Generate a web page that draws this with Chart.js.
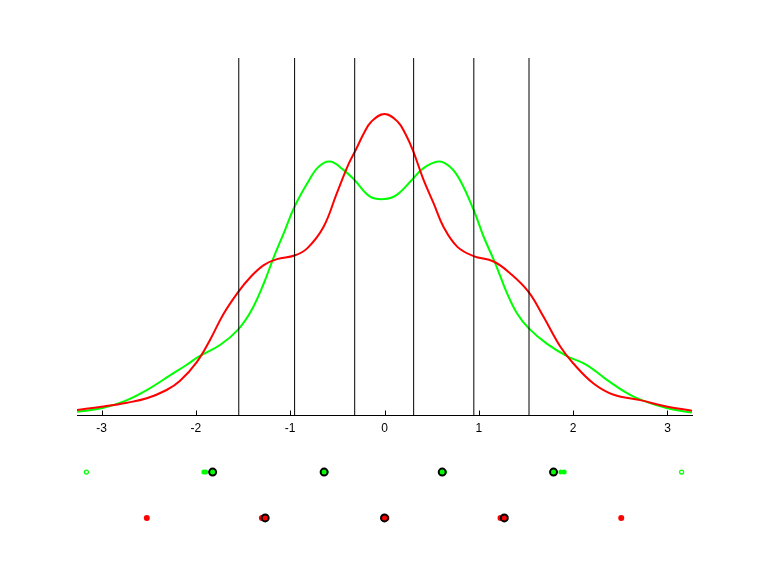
<!DOCTYPE html>
<html>
<head>
<meta charset="utf-8">
<script src="https://cdn.jsdelivr.net/npm/chart.js@4/dist/chart.umd.min.js"></script>
<style>
  html, body { margin: 0; padding: 0; background: #ffffff; }
  #wrap { width: 768px; height: 576px; }
</style>
</head>
<body>
<div id="wrap"><canvas id="chart" width="768" height="576"></canvas></div>
<script>
// x ticks along the axis
const tickValues = [-3, -2, -1, 0, 1, 2, 3];

// red density curve
const redX = [-3.26, -3.0, -2.73, -2.52, -2.31, -2.17, -1.99, -1.85, -1.71, -1.55, -1.42, -1.28, -1.14, -0.954, -0.82, -0.647, -0.505, -0.38, -0.3, -0.22, -0.14, 0,
  0.14, 0.22, 0.3, 0.41, 0.52, 0.626, 0.77, 0.944, 1.156, 1.333, 1.527, 1.686, 1.863, 2.0, 2.216, 2.43, 2.71, 3.0, 3.26];
const redY = [0.0084, 0.0139, 0.0207, 0.0281, 0.042, 0.057, 0.089, 0.126, 0.169, 0.207, 0.232, 0.252, 0.262, 0.268, 0.28, 0.316, 0.373, 0.422, 0.447, 0.473, 0.493, 0.506,
  0.493, 0.473, 0.445, 0.397, 0.356, 0.316, 0.283, 0.267, 0.258, 0.238, 0.207, 0.165, 0.115, 0.087, 0.053, 0.034, 0.025, 0.014, 0.0072];

// green density curve
const greenX = [-3.26, -3.0, -2.77, -2.52, -2.27, -2.1, -1.97, -1.74, -1.55, -1.41, -1.28, -1.18, -1.07, -0.954, -0.82, -0.7, -0.576, -0.435, -0.318, -0.152, 0,
  0.13, 0.307, 0.414, 0.573, 0.697, 0.8, 0.944, 1.05, 1.174, 1.298, 1.404, 1.527, 1.72, 1.934, 2.146, 2.358, 2.64, 3.0, 3.26];
const greenY = [0.0055, 0.0113, 0.0224, 0.042, 0.067, 0.084, 0.098, 0.118, 0.144, 0.176, 0.221, 0.263, 0.305, 0.35, 0.389, 0.417, 0.426, 0.412, 0.395, 0.367, 0.363,
  0.37, 0.398, 0.415, 0.426, 0.417, 0.395, 0.345, 0.3, 0.255, 0.205, 0.171, 0.146, 0.12, 0.099, 0.084, 0.059, 0.031, 0.0113, 0.004];

// decision thresholds (vertical lines)
const thresholds = [-1.545, -0.953, -0.316, 0.309, 0.947, 1.532];

// points in the two rows under the axis
const greenOpen = [-3.16, 3.15];
const greenPts = [-1.915, -1.895, -0.62, 0.635, 1.87, 1.905];
const greenLevels = [-1.822, -0.64, 0.612, 1.792];
const redPts = [-2.52, -1.3, 0.02, 1.23, 2.51];
const redLevels = [-1.265, 0, 1.27];

const Y_MIN = -0.2, Y_MAX = 0.6;
const GREEN_ROW = -0.096, RED_ROW = -0.173;

const RED = '#ff0000';
const GREEN = '#00ff00';

const pts = (xs, ys) => xs.map((x, i) => ({ x: x, y: ys[i] }));
const row = (xs, y) => xs.map(x => ({ x: x, y: y }));

const datasets = [];

// vertical lines drawn on top
thresholds.forEach(t => {
  datasets.push({
    data: [{ x: t, y: 0 }, { x: t, y: Y_MAX }],
    showLine: true, borderColor: '#000000', borderWidth: 1,
    pointRadius: 0, order: 0
  });
});

datasets.push({
  data: pts(redX, redY), showLine: true, borderColor: RED, borderWidth: 2,
  pointRadius: 0, tension: 0.4, order: 1
});
datasets.push({
  data: pts(greenX, greenY), showLine: true, borderColor: GREEN, borderWidth: 2,
  pointRadius: 0, tension: 0.4, order: 2
});

// bottom rows
datasets.push({
  data: row(greenLevels, GREEN_ROW), pointRadius: 3.5, pointBorderWidth: 2,
  pointBackgroundColor: GREEN, pointBorderColor: '#000000', order: 3
});
datasets.push({
  data: row(greenPts, GREEN_ROW), pointRadius: 2.5, pointBorderWidth: 0,
  pointBackgroundColor: GREEN, pointBorderColor: GREEN, order: 4
});
datasets.push({
  data: row(greenOpen, GREEN_ROW), pointRadius: 2, pointBorderWidth: 1.2,
  pointBackgroundColor: '#ffffff', pointBorderColor: GREEN, order: 4
});
datasets.push({
  data: row(redLevels, RED_ROW), pointRadius: 3.5, pointBorderWidth: 2,
  pointBackgroundColor: RED, pointBorderColor: '#000000', order: 3
});
datasets.push({
  data: row(redPts, RED_ROW), pointRadius: 3, pointBorderWidth: 0,
  pointBackgroundColor: RED, pointBorderColor: RED, order: 4
});

// small tick marks pointing up from the axis
const innerTicks = {
  id: 'innerTicks',
  afterDatasetsDraw(chart) {
    const xs = chart.scales.x, ys = chart.scales.y;
    const y0 = Math.round(ys.getPixelForValue(0)) + 0.5;
    const ctx = chart.ctx;
    ctx.save();
    ctx.strokeStyle = '#000000';
    ctx.lineWidth = 1;
    xs.ticks.forEach(t => {
      const px = Math.round(xs.getPixelForValue(t.value)) + 0.5;
      ctx.beginPath();
      ctx.moveTo(px, y0);
      ctx.lineTo(px, y0 - 5);
      ctx.stroke();
    });
    ctx.restore();
  }
};

new Chart(document.getElementById('chart'), {
  type: 'scatter',
  data: { datasets: datasets },
  options: {
    responsive: false,
    animation: false,
    devicePixelRatio: 1,
    layout: { padding: { left: 77, right: 76, top: 58, bottom: 42 } },
    plugins: { legend: { display: false }, tooltip: { enabled: false } },
    scales: {
      x: {
        type: 'linear',
        min: -3.26, max: 3.26,
        position: { y: 0 },
        afterBuildTicks: s => { s.ticks = tickValues.map(v => ({ value: v })); },
        grid: { display: true, drawOnChartArea: false, drawTicks: false },
        border: { display: true, color: '#000000', width: 1 },
        ticks: {
          color: '#000000',
          padding: 6,
          maxRotation: 0,
          font: { family: '"Liberation Sans", Arial, sans-serif', size: 12 }
        }
      },
      y: {
        type: 'linear',
        display: false,
        min: Y_MIN, max: Y_MAX
      }
    }
  },
  plugins: [innerTicks]
});
</script>
</body>
</html>
